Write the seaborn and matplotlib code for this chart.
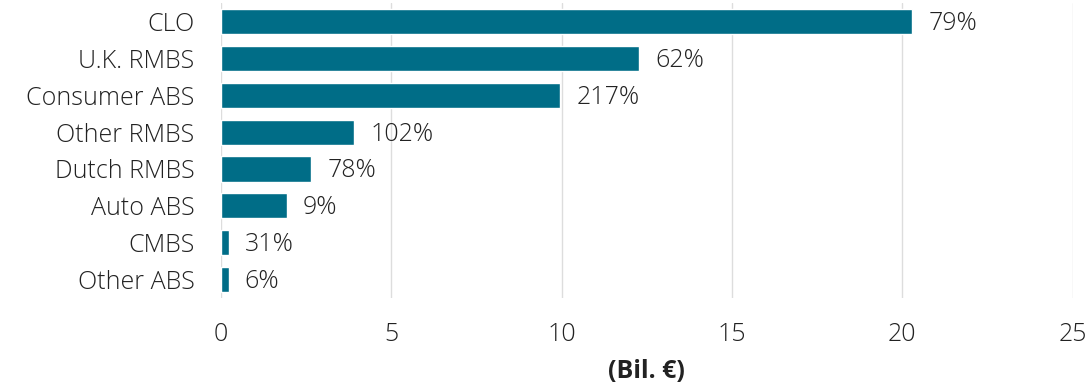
import matplotlib
matplotlib.use("Agg")
import matplotlib.pyplot as plt
import seaborn as sns
import pandas as pd

categories = ["CLO", "U.K. RMBS", "Consumer ABS", "Other RMBS", "Dutch RMBS", "Auto ABS", "CMBS", "Other ABS"]
values = [20.29, 12.28, 9.96, 3.92, 2.66, 1.93, 0.25, 0.23]
pct_labels = ["79%", "62%", "217%", "102%", "78%", "9%", "31%", "6%"]
x_ticks = [0, 5, 10, 15, 20, 25]

sns.set_theme(style="white")
plt.rcParams['font.family'] = ['Open Sans', 'DejaVu Sans']

FS = 18
TXT = "#222222"

df = pd.DataFrame({"cat": categories, "val": values})

fig = plt.figure(figsize=(10.89, 3.85), dpi=100)
ax = fig.add_axes([0.2027, 0.226, 0.7823, 0.766])

sns.barplot(data=df, x="val", y="cat", color="#006d87", saturation=1, width=0.68, ax=ax, zorder=3)

for p, lab in zip(ax.patches, pct_labels):
    ax.annotate(lab, (p.get_width(), p.get_y() + p.get_height() / 2),
                xytext=(16, -2), textcoords="offset pixels",
                va="center", ha="left", fontsize=FS, color=TXT, fontweight="light")

ax.set_xlim(0, 25)
ax.set_ylim(7.5, -0.5)
ax.set_xticks(x_ticks)
ax.set_xticklabels([str(t) for t in x_ticks], fontsize=FS, color=TXT, fontweight="light")
ax.set_yticks(range(len(categories)))
ax.set_yticklabels(categories, fontsize=FS, color=TXT, fontweight="light")
ax.tick_params(axis="x", length=0, pad=17)
ax.tick_params(axis="y", length=0, pad=19)
ax.grid(axis="x", color="#dddddd", linewidth=1, zorder=0)
ax.grid(axis="y", visible=False)
for s in ax.spines.values():
    s.set_visible(False)
ax.set_ylabel("")
ax.set_xlabel("(Bil. €)", fontsize=FS, fontweight="bold", color=TXT, labelpad=9)

fig.savefig("out.png", dpi=100)
